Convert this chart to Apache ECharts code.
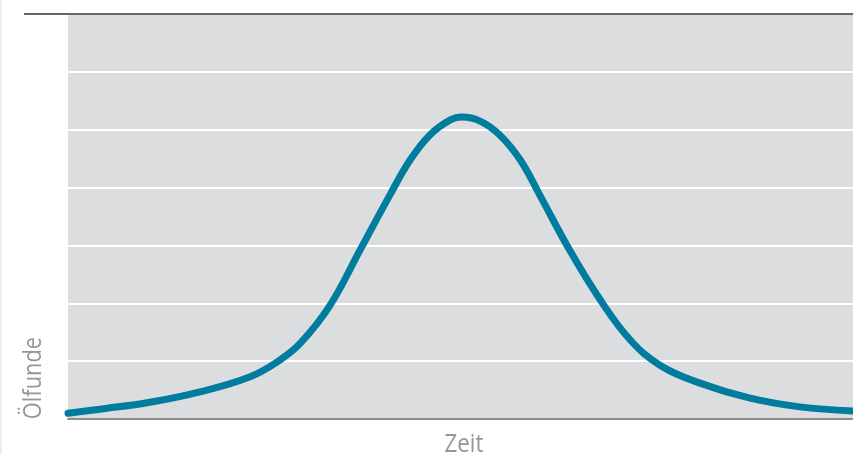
<!DOCTYPE html>
<html><head><meta charset="utf-8">
<script src="https://cdn.jsdelivr.net/npm/echarts@6/dist/echarts.min.js"></script>
<style>html,body{margin:0;padding:0;background:#fff}#c{width:853px;height:454px}</style>
</head><body><div id="c"></div>
<script>
var timeValues = [0, 4.08, 10.45, 16.8, 23.2, 27.0, 29.6, 33.4, 37.2, 41.0, 43.6, 46.1, 48.7, 50.2, 52.5, 55.0, 57.6, 60.1, 63.9, 67.8, 71.6, 75.4, 80.5, 86.9, 93.2, 100];
var oilValues  = [0.10, 0.17, 0.29, 0.47, 0.73, 1.02, 1.31, 1.97, 2.92, 3.87, 4.48, 4.91, 5.17, 5.22, 5.15, 4.91, 4.48, 3.87, 2.92, 2.06, 1.37, 0.93, 0.62, 0.36, 0.21, 0.14];
var xName = 'Zeit';
var yName = 'Ölfunde';

var data = timeValues.map(function (t, i) { return [t, oilValues[i]]; });
var chart = echarts.init(document.getElementById('c'), null, {renderer: 'canvas'});
chart.setOption({
  animation: false,
  grid: {left: 68, right: 0, top: 14, bottom: 35, show: true, backgroundColor: '#dcdddf', borderWidth: 0, outerBoundsMode: 'none', containLabel: false},
  xAxis: {
    type: 'value', min: 0, max: 100,
    axisLine: {show: true, onZero: false, lineStyle: {color: '#8c8c8c', width: 2}},
    axisTick: {show: false}, axisLabel: {show: false}, splitLine: {show: false}
  },
  yAxis: {
    type: 'value', min: 0, max: 7, interval: 1,
    axisLine: {show: false}, axisTick: {show: false}, axisLabel: {show: false},
    splitLine: {show: true, lineStyle: {color: '#ffffff', width: 2}}
  },
  series: [{
    type: 'line', data: data, smooth: 0.4, symbol: 'none',
    lineStyle: {color: '#007d9e', width: 7, cap: 'round'}
  }],
  graphic: [
    {type: 'line', z: 100, shape: {x1: 24, y1: 14, x2: 853, y2: 14}, style: {stroke: '#666666', lineWidth: 2}},
    {type: 'rect', z: 100, shape: {x: 0, y: 0, width: 2, height: 454}, style: {fill: '#eeeeee'}},
    {type: 'text', z: 100, x: 34, y: 378, rotation: Math.PI / 2, scaleX: 0.84,
     style: {text: yName, font: '26px "Open Sans"', fill: '#979797', align: 'center', verticalAlign: 'middle'}},
    {type: 'text', z: 100, x: 464, y: 445, scaleX: 0.86,
     style: {text: xName, font: '26px "Open Sans"', fill: '#979797', align: 'center', verticalAlign: 'middle'}}
  ]
});
</script></body></html>
